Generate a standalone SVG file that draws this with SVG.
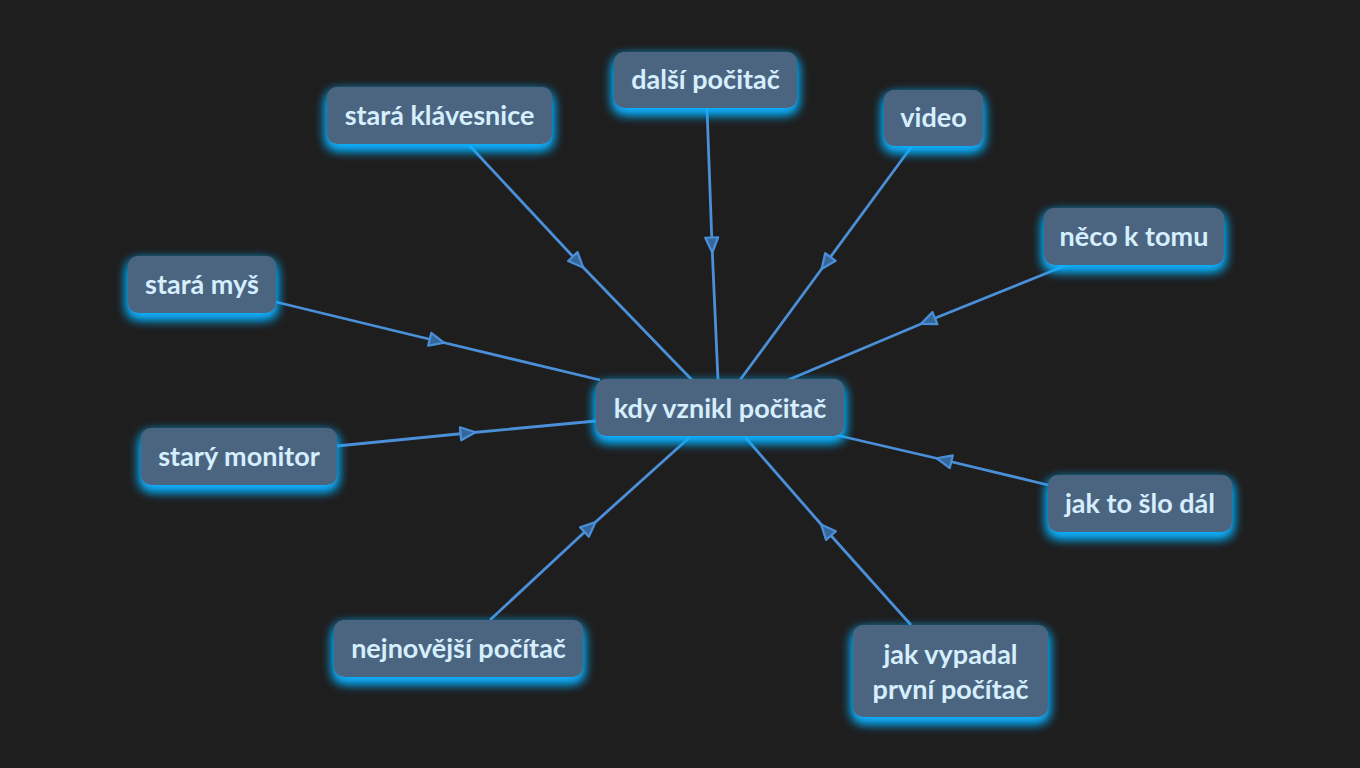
<svg xmlns="http://www.w3.org/2000/svg" width="1360" height="768" viewBox="0 0 1360 768">
<defs>
<style>
.node rect{fill:#4b6580;filter:url(#glow)}
.node text{font-family:Lato,"Noto Sans","DejaVu Sans",sans-serif;font-weight:700;font-size:27px;fill:#d6efff;text-anchor:middle}
.conn polyline{fill:none;stroke:#4a8fd8;stroke-width:2.8;marker-mid:url(#arr)}
</style>
<filter id="glow" x="-25%" y="-40%" width="150%" height="200%">
<feFlood flood-color="#10b0ff" flood-opacity="1"/>
<feComposite in2="SourceAlpha" operator="in"/>
<feOffset dy="5"/>
<feGaussianBlur stdDeviation="6"/>
<feMerge><feMergeNode/><feMergeNode/><feMergeNode in="SourceGraphic"/></feMerge>
</filter>
<marker id="arr" viewBox="0 0 18 16" refX="9" refY="8" markerWidth="18" markerHeight="16" markerUnits="userSpaceOnUse" orient="auto">
<path d="M1.5,1.5 L16.5,8 L1.5,14.5 Z" fill="#36679a" stroke="#4a8fd8" stroke-width="2.2" stroke-linejoin="round"/>
</marker>
</defs>
<rect width="1360" height="768" fill="#1e1e1e"/>
<g id="connectors" class="conn">
<polyline points="469,145 578,262 692,380"/>
<polyline points="707,108 712,245 718,380"/>
<polyline points="912,146 826,263 740,380"/>
<polyline points="1067,265 928,321 788,380"/>
<polyline points="276,302 437,341 600,380"/>
<polyline points="337,446 468,433 596,421"/>
<polyline points="1048,485 944,460 836,435"/>
<polyline points="911,625 826,530 745,437"/>
<polyline points="490,620 590,527 690,437"/>
</g>
<g id="n-center" class="node"><rect x="596" y="379" width="248" height="57" rx="10"/><text x="720" y="418">kdy vznikl počitač</text></g>
<g id="n-klavesnice" class="node"><rect x="327" y="87" width="225" height="57" rx="10"/><text x="439.5" y="125">stará klávesnice</text></g>
<g id="n-dalsi" class="node"><rect x="614" y="52" width="183" height="56" rx="10"/><text x="705.5" y="89">další počitač</text></g>
<g id="n-video" class="node"><rect x="884" y="90" width="99" height="56" rx="10"/><text x="933.5" y="127">video</text></g>
<g id="n-neco" class="node"><rect x="1044" y="208" width="180" height="57" rx="10"/><text x="1134" y="246">něco k tomu</text></g>
<g id="n-mys" class="node"><rect x="128" y="256" width="148" height="57" rx="10"/><text x="202" y="294">stará myš</text></g>
<g id="n-monitor" class="node"><rect x="141" y="428" width="196" height="57" rx="10"/><text x="239" y="466">starý monitor</text></g>
<g id="n-dal" class="node"><rect x="1048" y="475" width="184" height="57" rx="10"/><text x="1140" y="513">jak to šlo dál</text></g>
<g id="n-nejnovejsi" class="node"><rect x="334" y="620" width="249" height="57" rx="10"/><text x="458.5" y="658">nejnovější počítač</text></g>
<g id="n-prvni" class="node"><rect x="853" y="625" width="195" height="92" rx="10"/><text x="950.5" y="664">jak vypadal</text><text x="950.5" y="699">první počítač</text></g>
</svg>
